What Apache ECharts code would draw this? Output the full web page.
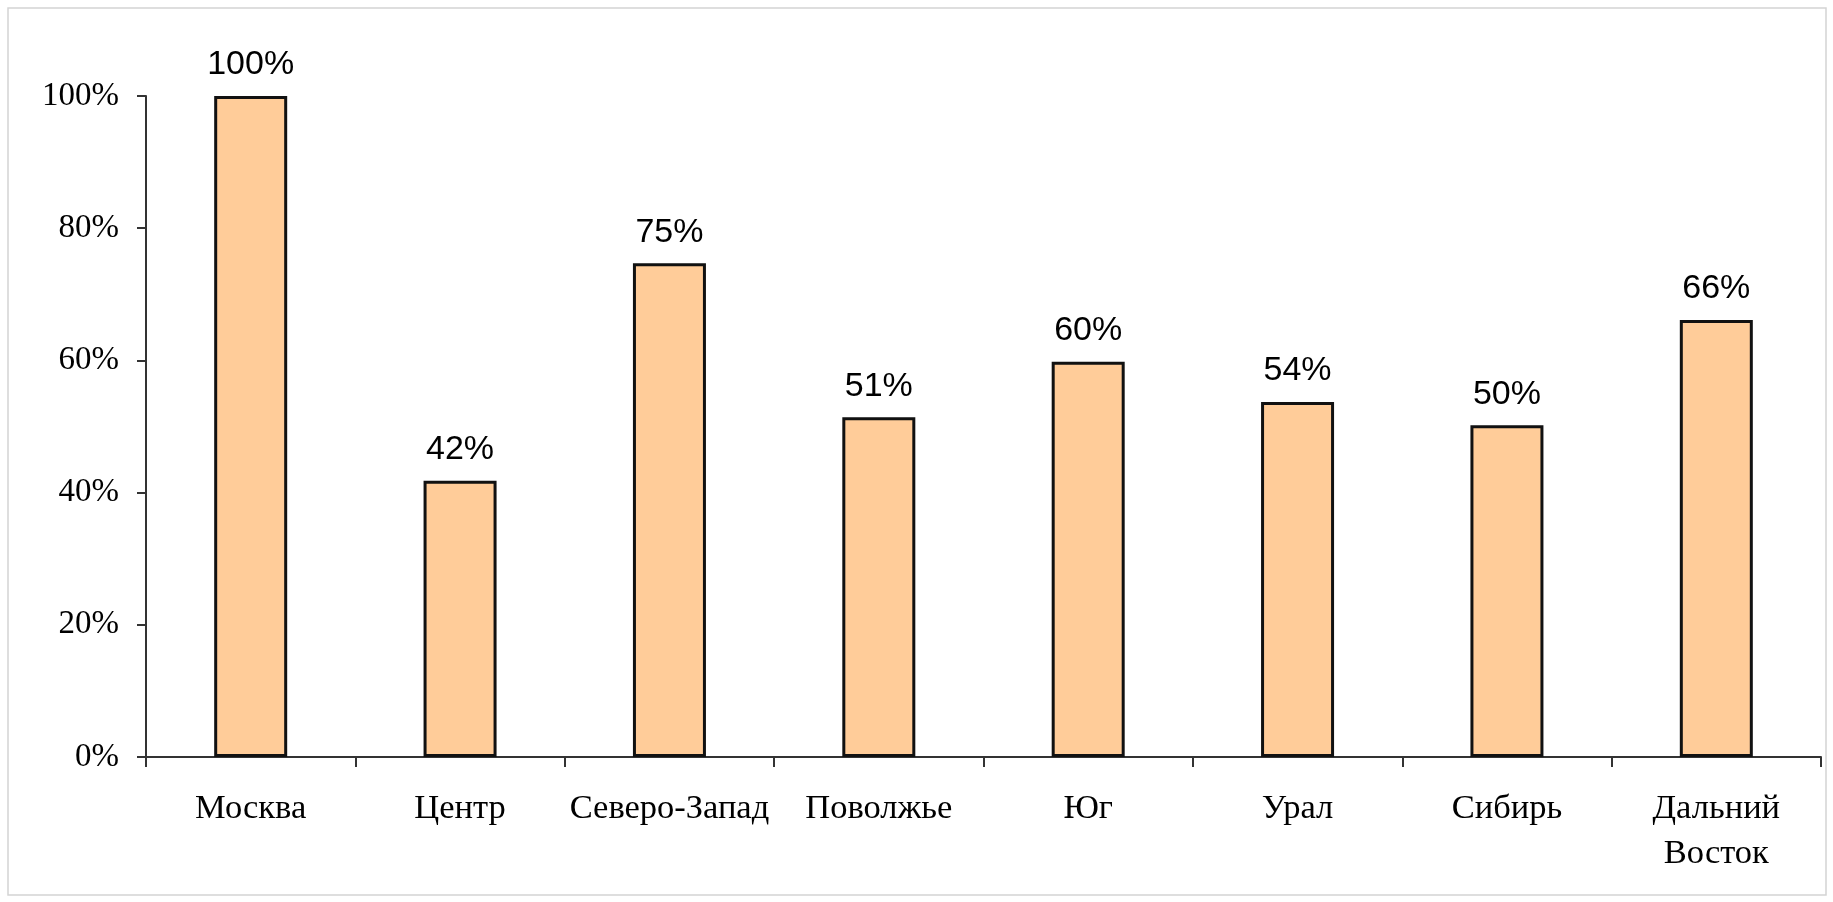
<!DOCTYPE html>
<html>
<head>
<meta charset="utf-8">
<script src="https://cdn.jsdelivr.net/npm/echarts@6/dist/echarts.min.js"></script>
<style>
html,body{margin:0;padding:0;background:#fff;}
#chart{width:1833px;height:902px;}
</style>
</head>
<body>
<div id="chart"></div>
<script>
const categories = ['Москва', 'Центр', 'Северо-Запад', 'Поволжье', 'Юг', 'Урал', 'Сибирь', 'Дальний\nВосток'];
const values = [100, 41.8, 74.7, 51.4, 59.8, 53.7, 50.2, 66.1];
const yTicks = [0, 20, 40, 60, 80, 100];

const chart = echarts.init(document.getElementById('chart'));
chart.setOption({
  backgroundColor: '#ffffff',
  animation: false,
  graphic: [{
    type: 'rect',
    shape: { x: 8, y: 8, width: 1818, height: 887 },
    style: { fill: 'none', stroke: '#d4d4d4', lineWidth: 1.5 },
    silent: true
  }],
  grid: { left: 146, right: 12, top: 96, bottom: 145 },
  xAxis: {
    type: 'category',
    data: categories,
    axisLine: { show: true, lineStyle: { color: '#333', width: 2 } },
    axisTick: { show: true, interval: 0, length: 10, lineStyle: { color: '#333', width: 2 } },
    axisLabel: {
      interval: 0,
      margin: 29,
      fontFamily: 'Liberation Serif',
      fontSize: 34.5,
      lineHeight: 45,
      color: '#000'
    }
  },
  yAxis: {
    type: 'value',
    min: 0,
    max: 100,
    interval: 20,
    splitLine: { show: false },
    axisLine: { show: true, lineStyle: { color: '#333', width: 2 } },
    axisTick: { show: true, length: 9, lineStyle: { color: '#333', width: 2 } },
    axisLabel: {
      margin: 27,
      fontFamily: 'Liberation Serif',
      fontSize: 33,
      color: '#000',
      formatter: function (v) { return yTicks.indexOf(v) >= 0 ? v + '%' : ''; }
    }
  },
  series: [{
    type: 'bar',
    data: values,
    barWidth: 73,
    itemStyle: { color: '#FFCC99', borderColor: '#111', borderWidth: 3 },
    label: {
      show: true,
      position: 'top',
      distance: 14,
      fontFamily: 'Liberation Sans',
      fontSize: 34,
      color: '#000',
      formatter: function (p) { return Math.round(p.value) + '%'; }
    }
  }]
});
</script>
</body>
</html>
